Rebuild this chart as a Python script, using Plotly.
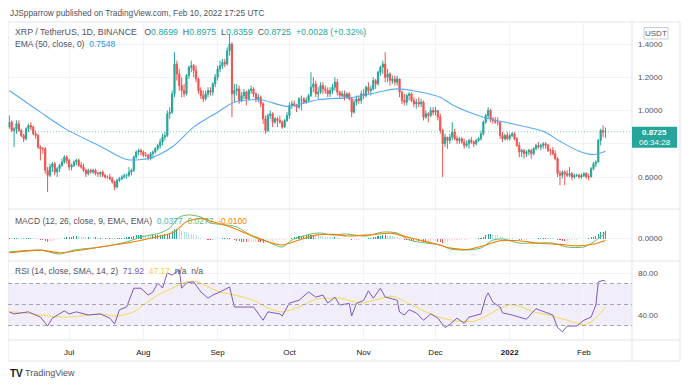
import plotly.graph_objects as go
import pandas as pd

# ------------------------------------------------------------------ data
start_date = "2021-06-06"
first_open = 0.90

closes = [
    # Jun 6-30
    0.93, 0.88, 0.89, 0.92, 0.88, 0.85, 0.83, 0.89, 0.91, 0.90, 0.86, 0.85, 0.78, 0.77, 0.77, 0.64, 0.61, 0.66, 0.68, 0.63, 0.65, 0.67, 0.69, 0.72, 0.70,
    # Jul
    0.66, 0.67, 0.69, 0.70, 0.67, 0.66, 0.64, 0.62, 0.64, 0.63, 0.64, 0.62, 0.62, 0.63, 0.61, 0.60, 0.60, 0.59, 0.57, 0.54, 0.58, 0.59, 0.60, 0.61, 0.61, 0.63, 0.64, 0.72, 0.75, 0.76, 0.75,
    # Aug
    0.73, 0.73, 0.71, 0.74, 0.75, 0.77, 0.79, 0.81, 0.84, 0.85, 0.98, 0.99, 1.10, 1.28, 1.22, 1.15, 1.12, 1.10, 1.21, 1.26, 1.27, 1.24, 1.19, 1.12, 1.09, 1.07, 1.10, 1.12, 1.11, 1.16, 1.20,
    # Sep
    1.25, 1.27, 1.29, 1.28, 1.36, 1.40, 1.10, 1.12, 1.13, 1.06, 1.09, 1.11, 1.07, 1.12, 1.13, 1.10, 1.07, 1.08, 1.04, 0.95, 0.88, 0.97, 0.98, 0.93, 0.95, 0.94, 0.93, 0.90, 0.94, 0.97,
    # Oct
    1.03, 1.04, 1.03, 1.02, 1.07, 1.07, 1.05, 1.06, 1.09, 1.14, 1.16, 1.10, 1.11, 1.15, 1.13, 1.12, 1.10, 1.12, 1.14, 1.17, 1.11, 1.09, 1.10, 1.08, 1.10, 1.07, 0.99, 1.05, 1.07, 1.06, 1.10,
    # Nov
    1.09, 1.14, 1.12, 1.13, 1.18, 1.16, 1.23, 1.26, 1.28, 1.20, 1.22, 1.18, 1.19, 1.17, 1.19, 1.11, 1.06, 1.05, 1.09, 1.10, 1.06, 1.04, 1.05, 1.04, 1.05, 0.96, 0.98, 0.97, 1.00, 0.99,
    # Dec
    1.00, 0.96, 0.88, 0.80, 0.84, 0.82, 0.84, 0.87, 0.83, 0.82, 0.83, 0.81, 0.79, 0.80, 0.82, 0.81, 0.80, 0.82, 0.83, 0.86, 0.93, 0.97, 1.00, 0.95, 0.94, 0.93, 0.93, 0.85, 0.83, 0.85, 0.83,
    # Jan
    0.85, 0.86, 0.83, 0.79, 0.75, 0.76, 0.74, 0.75, 0.76, 0.74, 0.77, 0.79, 0.78, 0.79, 0.80, 0.79, 0.76, 0.76, 0.74, 0.71, 0.62, 0.61, 0.63, 0.62, 0.61, 0.62, 0.60, 0.61, 0.61, 0.60, 0.61,
    # Feb 1-10
    0.62, 0.60, 0.60, 0.65, 0.68, 0.69, 0.82, 0.88, 0.8699, 0.8725,
]
highs = [
    0.97, 0.94, 0.90, 0.94, 0.94, 0.89, 0.86, 0.90, 0.92, 0.93, 0.91, 0.88, 0.86, 0.79, 0.78, 0.78, 0.66, 0.68, 0.69, 0.69, 0.66, 0.68, 0.71, 0.73, 0.73,
    0.71, 0.68, 0.70, 0.71, 0.71, 0.69, 0.68, 0.65, 0.65, 0.65, 0.65, 0.65, 0.63, 0.63, 0.64, 0.62, 0.61, 0.62, 0.60, 0.58, 0.59, 0.60, 0.61, 0.62, 0.62, 0.66, 0.65, 0.73, 0.76, 0.77, 0.77,
    0.76, 0.75, 0.74, 0.75, 0.76, 0.78, 0.80, 0.83, 0.86, 0.87, 1.00, 1.02, 1.12, 1.35, 1.30, 1.25, 1.20, 1.16, 1.22, 1.27, 1.30, 1.28, 1.27, 1.20, 1.14, 1.12, 1.12, 1.14, 1.14, 1.17, 1.22,
    1.27, 1.30, 1.31, 1.31, 1.38, 1.46, 1.41, 1.16, 1.16, 1.15, 1.11, 1.13, 1.12, 1.13, 1.15, 1.14, 1.11, 1.10, 1.09, 1.05, 0.97, 0.98, 1.00, 0.99, 0.96, 0.96, 0.97, 0.94, 0.95, 0.99,
    1.05, 1.06, 1.06, 1.04, 1.08, 1.09, 1.08, 1.08, 1.10, 1.23, 1.20, 1.18, 1.14, 1.17, 1.17, 1.15, 1.14, 1.14, 1.16, 1.20, 1.19, 1.12, 1.12, 1.12, 1.11, 1.11, 1.08, 1.07, 1.09, 1.09, 1.12,
    1.13, 1.15, 1.17, 1.15, 1.20, 1.19, 1.24, 1.27, 1.30, 1.35, 1.25, 1.23, 1.21, 1.21, 1.21, 1.19, 1.12, 1.10, 1.10, 1.11, 1.11, 1.08, 1.07, 1.08, 1.07, 1.06, 1.00, 0.99, 1.02, 1.02,
    1.02, 1.00, 0.98, 0.89, 0.86, 0.84, 0.86, 0.93, 0.89, 0.85, 0.84, 0.84, 0.83, 0.82, 0.83, 0.84, 0.82, 0.83, 0.84, 0.88, 0.94, 0.98, 1.02, 1.01, 0.96, 0.96, 0.96, 0.93, 0.87, 0.86, 0.87,
    0.86, 0.87, 0.87, 0.84, 0.81, 0.77, 0.77, 0.76, 0.77, 0.77, 0.78, 0.80, 0.81, 0.80, 0.81, 0.81, 0.80, 0.77, 0.78, 0.76, 0.72, 0.64, 0.64, 0.64, 0.64, 0.66, 0.63, 0.62, 0.62, 0.62, 0.62,
    0.63, 0.63, 0.62, 0.66, 0.69, 0.70, 0.83, 0.89, 0.91, 0.8975,
]
lows = [
    0.89, 0.87, 0.78, 0.86, 0.87, 0.84, 0.81, 0.82, 0.87, 0.88, 0.85, 0.83, 0.77, 0.70, 0.74, 0.62, 0.51, 0.60, 0.63, 0.61, 0.60, 0.63, 0.66, 0.68, 0.68,
    0.64, 0.64, 0.66, 0.67, 0.66, 0.65, 0.63, 0.60, 0.61, 0.62, 0.62, 0.61, 0.60, 0.60, 0.60, 0.59, 0.59, 0.58, 0.56, 0.52, 0.53, 0.57, 0.58, 0.59, 0.59, 0.60, 0.61, 0.63, 0.71, 0.73, 0.73,
    0.72, 0.72, 0.70, 0.70, 0.71, 0.74, 0.76, 0.77, 0.79, 0.82, 0.84, 0.95, 0.98, 1.08, 1.18, 1.12, 1.08, 1.08, 1.09, 1.19, 1.23, 1.20, 1.17, 1.10, 1.07, 1.05, 1.06, 1.08, 1.09, 1.09, 1.14,
    1.18, 1.23, 1.25, 1.26, 1.27, 1.33, 0.96, 1.05, 1.09, 1.04, 1.05, 1.07, 1.03, 1.06, 1.10, 1.08, 1.05, 1.05, 1.02, 0.92, 0.86, 0.87, 0.95, 0.90, 0.92, 0.90, 0.92, 0.89, 0.90, 0.93,
    0.95, 1.01, 1.02, 0.99, 1.01, 1.00, 1.04, 1.04, 1.05, 1.08, 1.11, 1.08, 1.07, 1.10, 1.10, 1.10, 1.08, 1.08, 1.10, 1.12, 1.09, 1.07, 1.07, 1.06, 1.07, 1.06, 0.96, 0.98, 1.03, 1.04, 1.04,
    1.07, 1.08, 1.10, 1.09, 1.12, 1.13, 1.15, 1.21, 1.22, 1.17, 1.17, 1.15, 1.16, 1.15, 1.15, 1.08, 1.04, 1.03, 1.03, 1.06, 1.05, 1.02, 1.01, 1.02, 1.02, 0.94, 0.95, 0.93, 0.96, 0.97,
    0.97, 0.94, 0.86, 0.60, 0.78, 0.77, 0.80, 0.82, 0.82, 0.80, 0.80, 0.80, 0.77, 0.78, 0.77, 0.80, 0.78, 0.79, 0.81, 0.82, 0.85, 0.92, 0.95, 0.93, 0.92, 0.92, 0.91, 0.83, 0.81, 0.82, 0.82,
    0.82, 0.84, 0.82, 0.78, 0.72, 0.72, 0.71, 0.72, 0.73, 0.71, 0.73, 0.76, 0.77, 0.76, 0.77, 0.77, 0.75, 0.73, 0.73, 0.70, 0.60, 0.55, 0.59, 0.55, 0.60, 0.60, 0.58, 0.59, 0.60, 0.59, 0.59,
    0.60, 0.59, 0.58, 0.60, 0.64, 0.66, 0.69, 0.79, 0.84, 0.8359,
]

# MACD histogram, one value per day
macd_hist = [
    0.004, 0.003, 0.003, 0.004, 0.003, 0.002, 0.001, 0.002, 0.003, 0.003, 0.002, 0.001,
    -0.003, -0.006, -0.008, -0.012, -0.016, -0.014, -0.012, -0.010, -0.008, -0.005, -0.002, 0.002, 0.006,
    0.008, 0.010, 0.012, 0.013, 0.012, 0.011,
    0.010, 0.008, 0.008, 0.007, 0.006, 0.006, 0.005, 0.005, 0.004, 0.004, 0.003, 0.003, 0.002, 0.001, 0.002, 0.003, 0.004, 0.005,
    0.006, 0.008, 0.010, 0.014, 0.018, 0.020, 0.021,
    0.020, 0.019, 0.017, 0.016, 0.016, 0.017, 0.018, 0.019, 0.021, 0.022, 0.026, 0.030, 0.038,
    0.050, 0.052, 0.048, 0.042, 0.036, 0.032, 0.030, 0.026, 0.022, 0.016, 0.010, 0.005,
    0.000, -0.004, -0.006, -0.007, -0.006, -0.004,
    -0.002, 0.000, 0.002, 0.003, 0.004, 0.005,
    -0.004, -0.008, -0.011, -0.014, -0.016, -0.017, -0.018, -0.018, -0.017, -0.017, -0.017, -0.018, -0.019, -0.022, -0.020, -0.016,
    -0.013, -0.011, -0.010, -0.009, -0.008, -0.008, -0.006, -0.003,
    0.000, 0.004, 0.007, 0.009, 0.012, 0.014, 0.015, 0.016, 0.017, 0.020, 0.021,
    0.018, 0.016, 0.014, 0.012, 0.010, 0.008, 0.007, 0.006,
    0.006, 0.003, 0.001, -0.001, -0.002, -0.003, -0.004, -0.008, -0.008, -0.007, -0.006, -0.004,
    -0.003, 0.000, 0.002, 0.004, 0.007, 0.009, 0.012, 0.015, 0.018, 0.019, 0.018,
    0.015, 0.012, 0.009, 0.007, 0.003,
    -0.002, -0.006, -0.008, -0.009, -0.011, -0.013, -0.013, -0.014, -0.014, -0.018, -0.019, -0.018, -0.016, -0.015,
    -0.015, -0.016, -0.019, -0.024, -0.020, -0.018, -0.015, -0.011, -0.010, -0.009, -0.008, -0.008, -0.008, -0.007,
    -0.005, -0.004, -0.003, -0.001, 0.001, 0.004, 0.010, 0.016, 0.022, 0.022, 0.020,
    0.018, 0.016, 0.011, 0.007, 0.005, 0.003,
    0.002, 0.001, -0.001, -0.003, -0.006, -0.007, -0.007, -0.006, -0.005, -0.005, -0.003,
    -0.001, 0.001, 0.002, 0.003, 0.004, 0.003, 0.002, 0.001,
    -0.001, -0.006, -0.010, -0.011, -0.012, -0.011, -0.010, -0.009, -0.008, -0.007, -0.005, -0.004,
    -0.002, 0.000, 0.002, 0.006, 0.010, 0.014, 0.024, 0.032, 0.036, 0.0377,
]

# indicator lines, read at sample days (day number counted from start_date)
ema_day = [0, 13, 24, 38, 49, 59, 68, 77, 87, 94, 105, 116, 129, 144, 154, 162, 172, 180, 185, 198, 210, 223, 230, 238, 244, 249]
ema_val = [1.12, 0.99, 0.885, 0.785, 0.705, 0.715, 0.78, 0.90, 0.99, 1.05, 1.065, 1.025, 1.065, 1.08, 1.11, 1.13, 1.11, 1.08, 1.035, 0.96, 0.92, 0.875, 0.815, 0.755, 0.735, 0.7548]

macd_day = [0, 13, 21, 27, 38, 49, 55, 63, 67, 71, 75, 80, 84, 91, 95, 102, 108, 114, 118, 126, 130, 135, 140, 149, 156, 162, 167, 174, 180, 184, 191, 197, 202, 206, 213, 219, 227, 233, 240, 244, 249]
macd_val = [-0.071, -0.061, -0.082, -0.061, -0.045, -0.018, 0.008, 0.029, 0.055, 0.113, 0.124, 0.113, 0.082, 0.071, 0.061, 0.008, -0.018, -0.045, -0.008, 0.024, 0.029, 0.018, 0.024, 0.013, 0.034, 0.029, -0.008, -0.024, -0.034, -0.055, -0.061, -0.050, -0.008, -0.003, -0.024, -0.024, -0.024, -0.045, -0.045, -0.018, 0.0277]

signal_day = [0, 13, 21, 38, 52, 63, 69, 74, 80, 85, 92, 99, 108, 114, 121, 128, 135, 141, 149, 160, 168, 177, 185, 192, 199, 205, 213, 221, 230, 238, 244, 249]
signal_val = [-0.075, -0.061, -0.075, -0.045, -0.017, 0.013, 0.036, 0.088, 0.106, 0.088, 0.062, 0.027, -0.017, -0.034, -0.008, 0.018, 0.022, 0.013, 0.018, 0.027, 0.001, -0.025, -0.052, -0.057, -0.034, -0.012, -0.012, -0.025, -0.031, -0.039, -0.029, -0.010]

rsi_day = [0, 2, 8, 10, 13, 16, 18, 23, 25, 28, 33, 38, 42, 44, 46, 49, 52, 55, 58, 60, 62, 64, 66, 68, 71, 72, 74, 77, 80, 83, 85, 88, 92, 94, 98, 102, 106, 108, 113, 114, 117, 121, 125, 128, 131, 133, 136, 138, 142, 143, 145, 148, 150, 152, 155, 157, 159, 162, 163, 165, 167, 170, 173, 176, 179, 182, 184, 187, 190, 192, 197, 199, 200, 202, 205, 206, 210, 213, 216, 220, 224, 227, 229, 231, 233, 237, 240, 243, 245, 246, 248, 249]
rsi_val = [42.9, 41, 43, 41, 38, 29.5, 37, 44, 41, 43, 40, 41, 37, 31.5, 45, 47.6, 65.5, 65.5, 59, 62, 70.5, 65.7, 80, 78, 83, 65.5, 70.5, 71.6, 62, 56, 59, 62, 66.7, 47.6, 47.6, 47.6, 35, 43, 41, 39, 51.4, 54, 62, 57, 59, 51.4, 57, 49.5, 51, 39, 51, 54, 63, 56, 65.5, 57, 56, 54, 42.9, 40, 45, 42, 35, 41, 37, 28, 31, 37, 32, 38, 41, 57, 61, 52, 47.6, 42, 40, 38, 36, 46, 43, 40, 28, 24, 29.5, 29.5, 35, 38, 49.5, 71.6, 73, 71.92]

rsi_ma_day = [0, 4, 17, 24, 33, 38, 45, 52, 56, 62, 68, 74, 78, 83, 88, 94, 102, 108, 114, 121, 128, 133, 138, 147, 154, 160, 166, 173, 181, 188, 194, 200, 205, 209, 213, 219, 225, 230, 236, 240, 244, 247, 249]
rsi_ma_val = [43, 42.5, 39, 38, 40, 41, 39, 43, 49.5, 59, 65.5, 71.6, 72, 66.7, 62, 59, 54, 46.7, 42.9, 47.6, 55, 56, 56, 51.4, 55, 58, 52, 44, 37, 34, 34, 40, 46.7, 49.5, 48.5, 43, 40, 37, 33, 30.5, 35, 42, 47.17]

month_ticks = ["2021-07-01", "2021-08-01", "2021-09-01", "2021-10-01", "2021-11-01", "2021-12-01", "2022-01-01", "2022-02-01"]
month_labels = ["Jul", "Aug", "Sep", "Oct", "Nov", "Dec", "<b>2022</b>", "Feb"]
price_ticks = [0.6, 0.8, 1.0, 1.2, 1.4]
price_labels = ["0.6000", "", "1.0000", "1.2000", "1.4000"]

# ------------------------------------------------------------------ derived
n = len(closes)
dates = pd.date_range(start_date, periods=n, freq="D")
opens = [first_open] + closes[:-1]
last_close = closes[-1]

hist_colors = []
prev = 0.0
for h in macd_hist:
    if h >= 0:
        hist_colors.append("#26a69a" if h >= prev else "#b2dfdb")
    else:
        hist_colors.append("#ff5252" if h < prev else "#ffcdd2")
    prev = h

def at(days):
    return [dates[d] for d in days]

# ------------------------------------------------------------------ geometry
# The page body has an 8px margin, so the figure is 16px smaller than the window
# and every position below is given in window pixels.
OFF = 8
FIG_W, FIG_H = 690 - 2 * OFF, 387 - 2 * OFF
PL, PR, PT, PB = 8, 632, 22, 340          # plot area in window pixels

def px(x):
    return (x - PL) / (PR - PL)

def py(y):
    return (PB - y) / (PB - PT)

FONT = "Liberation Sans"
TXT = "#131722"
GREY = "#50535e"

fig = go.Figure()

fig.add_trace(go.Candlestick(
    x=dates, open=opens, high=highs, low=lows, close=closes,
    increasing=dict(line=dict(color="#26a69a", width=1), fillcolor="#26a69a"),
    decreasing=dict(line=dict(color="#ef5350", width=1), fillcolor="#ef5350"),
    whiskerwidth=0, xaxis="x", yaxis="y", hoverinfo="skip", showlegend=False))
fig.add_trace(go.Scatter(
    x=at(ema_day), y=ema_val, mode="lines", line=dict(color="#5aaaf2", width=1.1, shape="spline", smoothing=0.8),
    xaxis="x", yaxis="y", hoverinfo="skip", showlegend=False))

fig.add_trace(go.Bar(
    x=dates, y=macd_hist, marker=dict(color=hist_colors, line=dict(width=0)), width=0.45 * 86400000,
    xaxis="x2", yaxis="y2", hoverinfo="skip", showlegend=False))
fig.add_trace(go.Scatter(
    x=at(macd_day), y=macd_val, mode="lines", line=dict(color="#66bb6a", width=1, shape="spline", smoothing=0.7),
    xaxis="x2", yaxis="y2", hoverinfo="skip", showlegend=False))
fig.add_trace(go.Scatter(
    x=at(signal_day), y=signal_val, mode="lines", line=dict(color="#f57c00", width=1.1, shape="spline", smoothing=0.7),
    xaxis="x2", yaxis="y2", hoverinfo="skip", showlegend=False))

fig.add_trace(go.Scatter(
    x=at(rsi_ma_day), y=rsi_ma_val, mode="lines", line=dict(color="#f6d856", width=1, shape="spline", smoothing=0.7),
    xaxis="x3", yaxis="y3", hoverinfo="skip", showlegend=False))
fig.add_trace(go.Scatter(
    x=at(rsi_day), y=rsi_val, mode="lines", line=dict(color="#7e57c2", width=1),
    xaxis="x3", yaxis="y3", hoverinfo="skip", showlegend=False))

xr = ["2021-06-05 11:00", "2022-02-21 02:00"]
GRID = "#f0f3fa"
xcommon = dict(type="date", range=xr, tickvals=month_ticks, ticktext=month_labels, showgrid=True,
               gridcolor=GRID, gridwidth=1, zeroline=False, showline=False, ticks="",
               rangeslider=dict(visible=False), fixedrange=True)

dom_main = [py(209), 1.0]
dom_macd = [py(261), py(209)]
dom_rsi = [0.0, py(261)]

ycommon = dict(side="right", showgrid=True, gridcolor=GRID, zeroline=False, showline=False, ticks="",
               tickfont=dict(family=FONT, size=8, color=GREY), ticklabelstandoff=5, fixedrange=True)

fig.update_layout(
    width=FIG_W, height=FIG_H,
    margin=dict(l=PL - OFF, r=FIG_W - (PR - OFF), t=PT - OFF, b=FIG_H - (PB - OFF), autoexpand=False),
    paper_bgcolor="white", plot_bgcolor="white", showlegend=False, bargap=0,
    xaxis=dict(**xcommon, anchor="y", showticklabels=False),
    xaxis2=dict(**xcommon, anchor="y2", matches="x", showticklabels=False),
    xaxis3=dict(**xcommon, anchor="y3", matches="x", showticklabels=True,
                tickfont=dict(family=FONT, size=8, color=TXT), ticklabelstandoff=6),
    yaxis=dict(**ycommon, domain=dom_main, anchor="x", range=[0.4075, 1.5323],
               tickvals=price_ticks, ticktext=price_labels),
    yaxis2=dict(**ycommon, domain=dom_macd, anchor="x2", range=[-0.1184, 0.1553],
                tickvals=[0.0], ticktext=["0.0000"]),
    yaxis3=dict(**ycommon, domain=dom_rsi, anchor="x3", range=[16.19, 91.43],
                tickvals=[40, 80], ticktext=["40.00", "80.00"]),
)

BORDER = "#e0e3eb"
shapes = [
    dict(type="rect", xref="paper", yref="y3", x0=0, x1=1, y0=30, y1=70,
         fillcolor="rgba(126,87,194,0.10)", line=dict(width=0), layer="below"),
    dict(type="line", xref="paper", yref="y", x0=0, x1=1, y0=last_close, y1=last_close,
         line=dict(color="rgba(38,166,154,0.6)", width=1, dash="1px,2px")),
    dict(type="rect", xref="paper", yref="paper", x0=0, x1=px(680), y0=py(361), y1=1,
         line=dict(color=BORDER, width=1)),
    dict(type="line", xref="paper", yref="paper", x0=1, x1=1, y0=py(361), y1=1, line=dict(color=BORDER, width=1)),
    dict(type="line", xref="paper", yref="paper", x0=0, x1=px(680), y0=py(209), y1=py(209), line=dict(color=BORDER, width=1)),
    dict(type="line", xref="paper", yref="paper", x0=0, x1=px(680), y0=py(261), y1=py(261), line=dict(color=BORDER, width=1)),
    dict(type="line", xref="paper", yref="paper", x0=0, x1=px(680), y0=0, y1=0, line=dict(color=BORDER, width=1)),
    dict(type="rect", xref="paper", yref="y", x0=1, x1=px(677), ysizemode="pixel", yanchor=last_close,
         y0=-16, y1=5, fillcolor="#26a69a", line=dict(width=0)),
    dict(type="rect", xref="paper", yref="paper", x0=px(644), x1=px(668), y0=py(39), y1=py(27.5),
         fillcolor="white", line=dict(color="#c9ccd3", width=1)),
]
for lvl in [70, 50, 30]:
    shapes.append(dict(type="line", xref="paper", yref="y3", x0=0, x1=1, y0=lvl, y1=lvl,
                       line=dict(color="#a3a6af", width=1, dash="4px,3px")))
fig.update_layout(shapes=shapes)

TEAL = "#26a69a"
SP = "&nbsp;"

def span(t, c):
    return f"<span style='color:{c}'>{t}</span>"

ann = []

def text(x, y, t, size=8.8, color=GREY, xanchor="left"):
    ann.append(dict(xref="paper", yref="paper", x=px(x), y=py(y), text=t, showarrow=False,
                    xanchor=xanchor, yanchor="middle", font=dict(family=FONT, size=size, color=color)))

text(8, 13, "JJSpparrow published on TradingView.com, Feb 10, 2022 17:25 UTC", size=8.3)
text(13, 32, "XRP / TetherUS, 1D, BINANCE" + SP * 3 + "O" + span("0.8699", TEAL) + SP * 2 + "H" + span("0.8975", TEAL)
     + SP * 2 + "L" + span("0.8359", TEAL) + SP * 2 + "C" + span("0.8725", TEAL) + SP * 2 + span("+0.0028 (+0.32%)", TEAL))
text(13, 44, "EMA (50, close, 0)" + SP + " " + span("0.7548", "#2196f3"), size=8.5)
text(13, 221, "MACD (12, 26, close, 9, EMA, EMA)" + SP + " " + span("0.0377", "#4db6ac") + SP + " "
     + span("0.0277", "#66bb6a") + SP + " " + span("-0.0100", "#f57c00"), size=8.5)
text(13, 271, "RSI (14, close, SMA, 14, 2)" + SP + " " + span("71.92", "#7e57c2") + SP + " "
     + span("47.17", "#f6d13a") + SP + " n/a" + SP + " n/a", size=8.5)
text(656, 33, "USDT", size=8, xanchor="center")
text(8, 373, "<b>TV</b>", size=10, color=TXT)
text(23, 373, "TradingView", size=9)

ann.append(dict(xref="paper", yref="y", x=px(654.5), y=last_close, yshift=-0.5, text="<b>0.8725</b>", showarrow=False,
                xanchor="center", yanchor="middle", font=dict(family=FONT, size=8, color="white")))
ann.append(dict(xref="paper", yref="y", x=px(654.5), y=last_close, yshift=-10.5, text="06:34:28", showarrow=False,
                xanchor="center", yanchor="middle", font=dict(family=FONT, size=8, color="white")))
fig.update_layout(annotations=ann)

fig.write_html("out.html", config={"displayModeBar": False, "staticPlot": True})
